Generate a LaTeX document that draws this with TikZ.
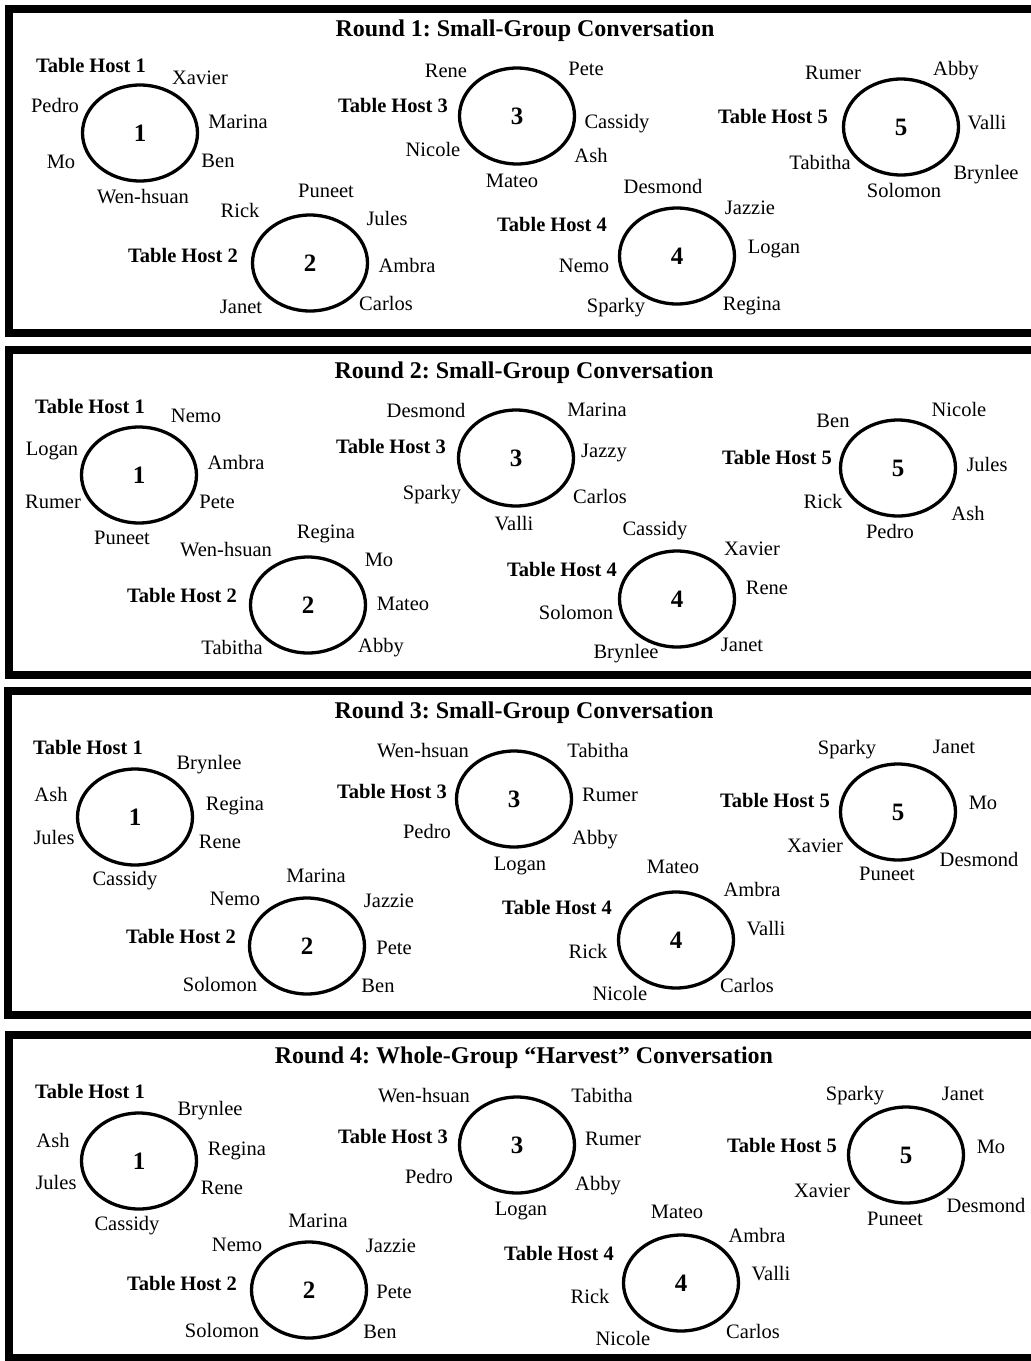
\documentclass[tikz,border=0pt]{standalone}
\usepackage{fontspec}
\setmainfont{Liberation Serif}
\usetikzlibrary{shapes.geometric}
\frenchspacing

\begin{document}
\begin{tikzpicture}[
    x=1pt, y=-1pt,
    panel/.style={draw, line width=8pt},
    roundtitle/.style={inner sep=0pt, font=\fontsize{24}{28}\selectfont\bfseries},
    host/.style={inner sep=0pt, text height=14pt, text depth=4pt, font=\fontsize{20.5}{24}\selectfont\bfseries},
    guest/.style={inner sep=0pt, text height=14pt, text depth=4pt, font=\fontsize{20.5}{24}\selectfont},
    tablering/.style={ellipse, draw, line width=3.3pt, minimum width=115pt, minimum height=96pt, inner sep=0pt, font=\fontsize{25}{30}\selectfont\bfseries}
]
\clip (0,0) rectangle (1031,1361);

% Panel frames (open on the right)
\draw[panel] (9,9) rectangle (1060,333);
\draw[panel] (9,350) rectangle (1060,675);
\draw[panel] (8,691) rectangle (1060,1015);
\draw[panel] (9,1035) rectangle (1060,1358);

% Round 1
\node[roundtitle] (r1title) at (525,31) {Round 1: Small-Group Conversation};
\foreach \t/\x/\y in {1/140/133, 2/310/263, 3/517/116, 4/677/256, 5/901/127}
    \node[tablering] (r1t\t) at (\x,\y) {\t};
\foreach \t/\x/\y in {1/91/67, 2/183/257, 3/393/107, 4/552/226, 5/773/118}
    \node[host] (r1h\t) at (\x,\y) {Table Host \t};
\foreach \n/\x/\y in {Xavier/200/79, Pedro/55/107, Marina/238/123, Mo/61/163, Ben/218/162, Wen-hsuan/143/198,
    Puneet/326/192, Rick/240/212, Jules/387/220, Ambra/407/267, Janet/241/308, Carlos/386/305,
    Rene/446/72, Pete/586/70, Cassidy/617/123, Nicole/433/151, Ash/591/157, Mateo/512/182,
    Desmond/663/188, Jazzie/750/209, Logan/774/248, Nemo/584/267, Sparky/616/307, Regina/752/305,
    Rumer/833/74, Abby/956/70, Valli/987/124, Tabitha/820/164, Solomon/904/192, Brynlee/986/174}
    \node[guest] (r1-\n) at (\x,\y) {\n};

% Round 2
\node[roundtitle] (r2title) at (524,373) {Round 2: Small-Group Conversation};
\foreach \t/\x/\y in {1/139/475, 2/308/605, 3/516/458, 4/677/599, 5/898/468}
    \node[tablering] (r2t\t) at (\x,\y) {\t};
\foreach \t/\x/\y in {1/90/408, 2/182/597, 3/391/448, 4/562/571, 5/777/459}
    \node[host] (r2h\t) at (\x,\y) {Table Host \t};
\foreach \n/\x/\y in {Nemo/196/417, Logan/52/450, Ambra/236/464, Rumer/53/503, Pete/217/503, Puneet/122/539,
    Wen-hsuan/226/551, Regina/326/533, Mo/379/561, Mateo/403/605, Tabitha/232/649, Abby/381/647,
    Desmond/426/412, Marina/597/411, Jazzy/604/452, Sparky/432/494, Carlos/600/498, Valli/514/525,
    Cassidy/655/530, Xavier/752/550, Rene/767/589, Solomon/576/614, Brynlee/626/653, Janet/742/646,
    Ben/833/422, Nicole/959/411, Jules/987/466, Rick/823/503, Ash/968/515, Pedro/890/533}
    \node[guest] (r2-\n) at (\x,\y) {\n};

% Round 3
\node[roundtitle] (r3title) at (524,713) {Round 3: Small-Group Conversation};
\foreach \t/\x/\y in {1/135/817, 2/307/946, 3/514/799, 4/676/940, 5/898/812}
    \node[tablering] (r3t\t) at (\x,\y) {\t};
\foreach \t/\x/\y in {1/88/749, 2/181/938, 3/392/793, 4/557/909, 5/775/802}
    \node[host] (r3h\t) at (\x,\y) {Table Host \t};
\foreach \n/\x/\y in {Brynlee/209/764, Ash/51/796, Regina/235/805, Jules/54/839, Rene/220/843, Cassidy/125/880,
    Marina/316/877, Nemo/235/900, Jazzie/389/902, Pete/394/949, Solomon/220/986, Ben/378/987,
    Wen-hsuan/423/752, Tabitha/598/752, Rumer/610/796, Pedro/427/833, Abby/595/839, Logan/520/865,
    Mateo/673/868, Ambra/752/891, Valli/766/930, Rick/588/953, Nicole/620/995, Carlos/747/987,
    Sparky/847/749, Janet/954/748, Mo/983/804, Xavier/815/847, Puneet/887/875, Desmond/979/861}
    \node[guest] (r3-\n) at (\x,\y) {\n};

% Round 4
\node[roundtitle] (r4title) at (524,1058) {Round 4: Whole-Group “Harvest” Conversation};
\foreach \t/\x/\y in {1/139/1161, 2/309/1290, 3/517/1145, 4/681/1283, 5/906/1155}
    \node[tablering] (r4t\t) at (\x,\y) {\t};
\foreach \t/\x/\y in {1/90/1093, 2/182/1285, 3/393/1138, 4/559/1255, 5/782/1147}
    \node[host] (r4h\t) at (\x,\y) {Table Host \t};
\foreach \n/\x/\y in {Brynlee/210/1110, Ash/53/1142, Regina/237/1150, Jules/56/1184, Rene/222/1189, Cassidy/127/1225,
    Marina/318/1222, Nemo/237/1246, Jazzie/391/1247, Pete/394/1293, Solomon/222/1332, Ben/380/1333,
    Wen-hsuan/424/1097, Tabitha/602/1097, Rumer/613/1140, Pedro/429/1178, Abby/598/1185, Logan/521/1210,
    Mateo/677/1213, Ambra/757/1237, Valli/771/1275, Rick/590/1298, Nicole/623/1340, Carlos/753/1333,
    Sparky/855/1095, Janet/963/1095, Mo/991/1148, Xavier/822/1192, Puneet/895/1220, Desmond/986/1207}
    \node[guest] (r4-\n) at (\x,\y) {\n};

\end{tikzpicture}
\end{document}
